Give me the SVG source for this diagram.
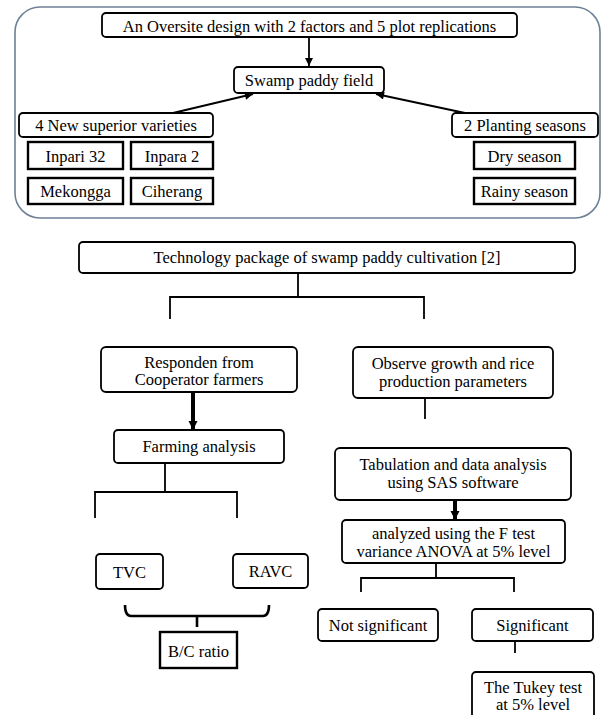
<svg xmlns="http://www.w3.org/2000/svg" width="604" height="715" viewBox="0 0 604 715">
<style>
  text { font-family: "Liberation Serif", "Times New Roman", serif; font-size: 16.5px; fill: #000; text-anchor: middle; }
  .rbox { fill: #fff; stroke: #000; stroke-width: 1.8; }
  .sbox { fill: #fff; stroke: #000; stroke-width: 2.4; }
  .frame { fill: #fff; stroke: #6e8096; stroke-width: 1.6; }
  .conn { fill: none; stroke: #000; stroke-width: 1.8; }
  .thick { fill: none; stroke: #000; stroke-width: 4; }
  .brace { fill: none; stroke: #000; stroke-width: 2.6; }
</style>
<defs>
  <marker id="arrow" viewBox="0 0 10 10" refX="10" refY="5" markerWidth="10" markerHeight="8" markerUnits="userSpaceOnUse" orient="auto">
    <path d="M0,0 L10,5 L0,10 z" fill="#000"/>
  </marker>
  <marker id="arrowBold" viewBox="0 0 10 10" refX="10" refY="5" markerWidth="9" markerHeight="11" markerUnits="userSpaceOnUse" orient="auto">
    <path d="M0,0 L10,5 L0,10 z" fill="#000"/>
  </marker>
</defs>
<rect width="604" height="715" fill="#fff"/>

<g id="factors-frame">
  <rect class="frame" x="15" y="7" width="585" height="211" rx="25" ry="25"/>
</g>

<g id="connectors">
  <line class="conn" x1="309" y1="37" x2="309" y2="66" marker-end="url(#arrow)"/>
  <line class="conn" x1="173" y1="113" x2="253" y2="94" marker-end="url(#arrow)"/>
  <line class="conn" x1="465" y1="113" x2="376" y2="94" marker-end="url(#arrow)"/>
  <path class="conn" d="M298,273 V297 M170,297 H424 M170,296 V319 M424,296 V319"/>
  <path class="conn" d="M425,398 V419"/>
  <line class="thick" x1="193" y1="392" x2="193" y2="430" marker-end="url(#arrowBold)"/>
  <path class="conn" d="M165,463 V492 M95,492 H237 M95,491 V518 M237,491 V518"/>
  <path class="brace" d="M125,605 Q125,616 131,616 H263 Q269,616 269,605 M197,616 V627"/>
  <line class="thick" x1="455" y1="500" x2="455" y2="520" marker-end="url(#arrowBold)"/>
  <path class="conn" d="M436,563 V578 M361,578 H514 M361,577 V592 M514,577 V592"/>
  <path class="conn" d="M515,641 V653"/>
</g>

<g id="design">
  <rect class="rbox" x="102" y="13" width="415" height="24" rx="4"/>
  <text x="309.5" y="31.5">An Oversite design with 2 factors and 5 plot replications</text>
</g>
<g id="swamp-field">
  <rect class="rbox" x="234" y="67" width="150" height="26" rx="4"/>
  <text x="309" y="86">Swamp paddy field</text>
</g>
<g id="varieties">
  <rect class="rbox" x="19" y="113" width="194" height="24" rx="4"/>
  <text x="116" y="131">4 New superior varieties</text>
</g>
<g id="seasons">
  <rect class="rbox" x="452" y="113" width="146" height="24" rx="4"/>
  <text x="525" y="131">2 Planting seasons</text>
</g>
<g id="inpari32">
  <rect class="sbox" x="28" y="142" width="95" height="27"/>
  <text x="75.5" y="162">Inpari 32</text>
</g>
<g id="inpara2">
  <rect class="sbox" x="131" y="142" width="82" height="27"/>
  <text x="172" y="162">Inpara 2</text>
</g>
<g id="mekongga">
  <rect class="sbox" x="28" y="178" width="95" height="26"/>
  <text x="75.5" y="196.5">Mekongga</text>
</g>
<g id="ciherang">
  <rect class="sbox" x="131" y="178" width="82" height="26"/>
  <text x="172" y="196.5">Ciherang</text>
</g>
<g id="dry-season">
  <rect class="sbox" x="474" y="142" width="101" height="27"/>
  <text x="524.5" y="162">Dry season</text>
</g>
<g id="rainy-season">
  <rect class="sbox" x="474" y="178" width="101" height="26"/>
  <text x="524.5" y="196.5">Rainy season</text>
</g>

<g id="technology">
  <rect class="rbox" x="79" y="242" width="496" height="31" rx="4"/>
  <text x="327" y="262.5">Technology package of swamp paddy cultivation [2]</text>
</g>
<g id="responden">
  <rect class="rbox" x="101" y="347" width="196" height="45" rx="5"/>
  <text x="199" y="367.5">Responden from</text>
  <text x="199" y="385">Cooperator farmers</text>
</g>
<g id="observe">
  <rect class="rbox" x="353" y="347" width="200" height="51" rx="5"/>
  <text x="453" y="369">Observe growth and rice</text>
  <text x="453" y="386.5">production parameters</text>
</g>
<g id="farming">
  <rect class="rbox" x="114" y="430" width="170" height="33" rx="4"/>
  <text x="199" y="451.5">Farming analysis</text>
</g>
<g id="tabulation">
  <rect class="rbox" x="335" y="448" width="236" height="52" rx="5"/>
  <text x="453" y="469.5">Tabulation and data analysis</text>
  <text x="453" y="487.5">using SAS software</text>
</g>
<g id="anova">
  <rect class="rbox" x="342" y="520" width="223" height="43" rx="4"/>
  <text x="453.5" y="538.5">analyzed using the F test</text>
  <text x="453.5" y="556.5">variance ANOVA at 5% level</text>
</g>
<g id="tvc">
  <rect class="rbox" x="96" y="554" width="67" height="35" rx="4"/>
  <text x="129.5" y="577.5">TVC</text>
</g>
<g id="ravc">
  <rect class="rbox" x="233" y="554" width="75" height="34" rx="4"/>
  <text x="270.5" y="576.5">RAVC</text>
</g>
<g id="bc-ratio">
  <rect class="sbox" x="160" y="632" width="77" height="36"/>
  <text x="198.5" y="656.5">B/C ratio</text>
</g>
<g id="not-significant">
  <rect class="rbox" x="318" y="609" width="120" height="32" rx="4"/>
  <text x="378" y="630.5">Not significant</text>
</g>
<g id="significant">
  <rect class="rbox" x="472" y="609" width="121" height="32" rx="4"/>
  <text x="532.5" y="630.5">Significant</text>
</g>
<g id="tukey">
  <rect class="rbox" x="472" y="672" width="122" height="52" rx="4"/>
  <text x="533" y="692.5">The Tukey test</text>
  <text x="533" y="710">at 5% level</text>
</g>
</svg>
